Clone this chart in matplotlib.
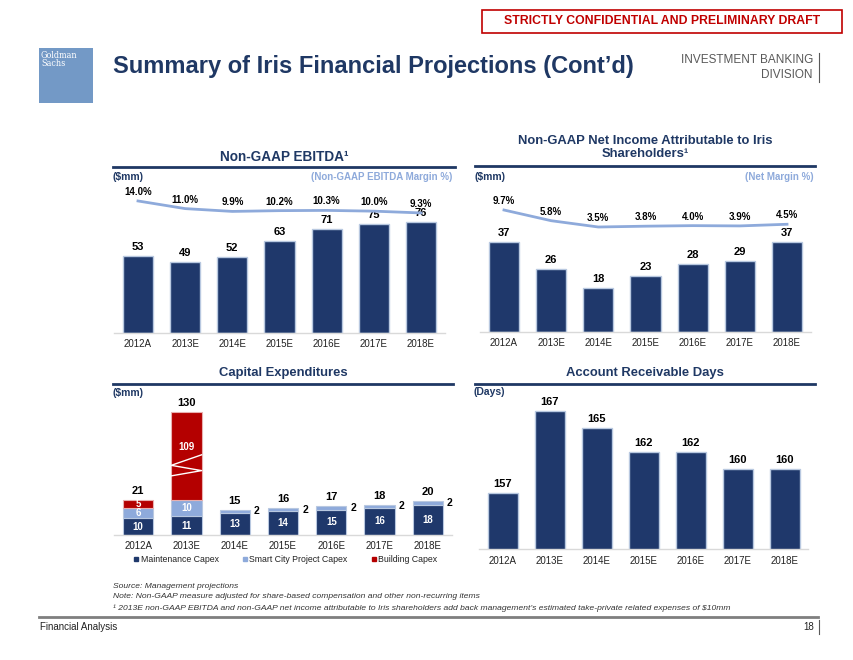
import matplotlib
matplotlib.use('Agg')
import matplotlib.pyplot as plt
from matplotlib.patches import Rectangle
from matplotlib.lines import Line2D

plt.rcParams['font.family'] = ['Liberation Sans', 'DejaVu Sans']

W, H = 854, 660
NAVY = '#1F3864'
BAR = '#1F386B'
EDGE = '#B8C8E0'
LIGHT = '#8EAADB'
RED = '#B40000'
GRAY = '#595959'

years = ['2012A', '2013E', '2014E', '2015E', '2016E', '2017E', '2018E']
ebitda = [53, 49, 52, 63, 71, 75, 76]
ebitda_margin = [14.0, 11.0, 9.9, 10.2, 10.3, 10.0, 9.3]
net_income = [37, 26, 18, 23, 28, 29, 37]
net_margin = [9.7, 5.8, 3.5, 3.8, 4.0, 3.9, 4.5]
capex_maint = [10, 11, 13, 14, 15, 16, 18]
capex_smart = [6, 10, 2, 2, 2, 2, 2]
capex_build = [5, 109, 0, 0, 0, 0, 0]
capex_names = ['Maintenance Capex', 'Smart City Project Capex', 'Building Capex']
ar_days = [157, 167, 165, 162, 162, 160, 160]

BREAK_CUT = 57  # amount of the 2013E building bar hidden by the axis break

fig = plt.figure(figsize=(W / 100, H / 100), dpi=100)


def fx(x):
    return x / W


def fy(y):
    return 1 - y / H


def px_axes(left, top, right, bottom):
    return fig.add_axes([fx(left), fy(bottom), (right - left) / W, (bottom - top) / H])


def ftext(x, y, s, **kw):
    kw.setdefault('va', 'center')
    return fig.text(fx(x), fy(y), s, **kw)


def hline(x0, x1, y, color=NAVY, lw=2):
    fig.add_artist(Line2D([fx(x0), fx(x1)], [fy(y), fy(y)], color=color, lw=lw,
                          transform=fig.transFigure))


def style_axes(ax):
    for s in ['left', 'right', 'top']:
        ax.spines[s].set_visible(False)
    ax.spines['bottom'].set_color('#D9D9D9')
    ax.spines['bottom'].set_linewidth(1)
    ax.set_yticks([])
    ax.set_xticks(range(len(years)))
    ax.set_xticklabels(years, fontsize=7, color='#222222')
    ax.tick_params(axis='x', length=0, pad=4)
    ax.set_xlim(-0.5, len(years) - 0.5)
    ax.patch.set_alpha(0)


def bar_panel(ax, values, ylim):
    x = range(len(values))
    bars = ax.bar(x, values, width=0.64, color=BAR, edgecolor=EDGE, linewidth=1)
    ax.set_ylim(*ylim)
    for b, v in zip(bars, values):
        ax.annotate(str(v), (b.get_x() + b.get_width() / 2, v), xytext=(0, 4),
                    textcoords='offset pixels', ha='center', va='bottom',
                    fontsize=8, fontweight='bold')
    style_axes(ax)


def margin_line(ax, values, ylim):
    ax2 = ax.twinx()
    x = list(range(len(values)))
    ax2.plot(x, values, color=LIGHT, lw=2)
    ax2.set_ylim(*ylim)
    for xi, v in zip(x, values):
        ax2.annotate(f'{v:.1f}%', (xi, v), xytext=(0, 9), textcoords='offset pixels',
                     ha='center', va='center', fontsize=7, fontweight='bold')
    ax2.axis('off')


# ---- header ----
fig.add_artist(Rectangle((fx(482), fy(33)), 360 / W, 23 / H, transform=fig.transFigure,
                         facecolor='white', edgecolor='#C00000', lw=1.2))
ftext(662, 21.5, 'STRICTLY CONFIDENTIAL AND PRELIMINARY DRAFT', ha='center',
      fontsize=8.8, fontweight='bold', color='#C00000')

fig.add_artist(Rectangle((fx(39), fy(103)), 54 / W, 55 / H, transform=fig.transFigure,
                         facecolor='#7399C6', edgecolor='none'))
ftext(41, 51, 'Goldman\nSachs', ha='left', va='top', fontsize=6.5, color='white',
      family='DejaVu Serif', fontstretch='condensed', linespacing=0.85)

ftext(113, 66, 'Summary of Iris Financial Projections (Cont\u2019d)', ha='left',
      fontsize=17, fontweight='bold', color=NAVY)
ftext(813, 60, 'INVESTMENT BANKING', ha='right', fontsize=8.5, color=GRAY)
ftext(813, 75, 'DIVISION', ha='right', fontsize=8.5, color=GRAY)
fig.add_artist(Line2D([fx(819), fx(819)], [fy(53), fy(82)], color=GRAY, lw=0.8,
                      transform=fig.transFigure))

TITLE_FS = 9.4

# ---- Non-GAAP EBITDA ----
ftext(284, 157, 'Non-GAAP EBITDA\u00b9', ha='center', fontsize=TITLE_FS + 0.4,
      fontweight='bold', color=NAVY)
hline(113, 455, 167)
ftext(113, 177, '($mm)', ha='left', fontsize=7.5, fontweight='bold', color=NAVY)
ftext(452, 177, '(Non-GAAP EBITDA Margin %)', ha='right', fontsize=7,
      fontweight='bold', color=LIGHT)
ax1 = px_axes(114.4, 190, 444.6, 333)
bar_panel(ax1, ebitda, (0, 98))
margin_line(ax1, ebitda_margin, (-37.8, 18.3))

# ---- Net income ----
ftext(645, 147.5, 'Non-GAAP Net Income Attributable to Iris\nShareholders\u00b9', ha='center',
      fontsize=TITLE_FS, fontweight='bold', color=NAVY, linespacing=1.15)
hline(475, 815, 166)
ftext(475, 177, '($mm)', ha='left', fontsize=7.5, fontweight='bold', color=NAVY)
ftext(814, 177, '(Net Margin %)', ha='right', fontsize=7, fontweight='bold', color=LIGHT)
ax2 = px_axes(480.4, 190, 810.6, 332)
bar_panel(ax2, net_income, (0, 58.4))
margin_line(ax2, net_margin, (-34.8, 17.0))

# ---- Capital expenditures ----
ftext(283, 373, 'Capital Expenditures', ha='center', fontsize=TITLE_FS, fontweight='bold',
      color=NAVY)
hline(113, 453, 384)
ftext(113, 393, '($mm)', ha='left', fontsize=7.5, fontweight='bold', color=NAVY)
ax3 = px_axes(114, 400, 452, 535)
w = 0.63
x = list(range(len(years)))
build_disp = [v - BREAK_CUT if v > 60 else v for v in capex_build]
smart_bottom = capex_maint
build_bottom = [m + s for m, s in zip(capex_maint, capex_smart)]
ax3.bar(x, capex_maint, width=w, color=BAR, edgecolor=EDGE, linewidth=0.8)
ax3.bar(x, capex_smart, width=w, bottom=smart_bottom, color=LIGHT, edgecolor=EDGE, linewidth=0.8)
bx = [i for i in x if capex_build[i] > 0]
ax3.bar(bx, [build_disp[i] for i in bx], width=w, bottom=[build_bottom[i] for i in bx],
        color=RED, edgecolor='#E8B0B0', linewidth=0.8)
ax3.set_ylim(0, 80)
for i in x:
    ax3.text(i, capex_maint[i] / 2, str(capex_maint[i]), ha='center', va='center',
             fontsize=7, fontweight='bold', color='white')
    sm = capex_smart[i]
    if sm >= 5:
        ax3.text(i, smart_bottom[i] + sm / 2, str(sm), ha='center', va='center',
                 fontsize=7, fontweight='bold', color='white')
    else:
        ax3.annotate(str(sm), (i + w / 2, smart_bottom[i] + sm / 2), xytext=(4, 0),
                     textcoords='offset pixels', ha='left', va='center',
                     fontsize=7.5, fontweight='bold')
    if capex_build[i] > 0:
        yb = build_bottom[i] + build_disp[i] / 2
        if capex_build[i] > 60:
            yb = build_bottom[i] + build_disp[i] * 0.6
        ax3.text(i, yb, str(capex_build[i]), ha='center', va='center',
                 fontsize=7, fontweight='bold', color='white')
    total = capex_maint[i] + capex_smart[i] + capex_build[i]
    top = build_bottom[i] + build_disp[i]
    ax3.annotate(str(total), (i, top), xytext=(0, 4), textcoords='offset pixels',
                 ha='center', va='bottom', fontsize=8, fontweight='bold')
# axis break marks on the compressed bar
ib = capex_build.index(max(capex_build))
b0, bh = build_bottom[ib], build_disp[ib]
zig_x = [ib + w / 2, ib - w / 2, ib + w / 2, ib - w / 2]
zig_y = [b0 + bh * f for f in (0.51, 0.39, 0.33, 0.27)]
ax3.plot(zig_x, zig_y, color='white', lw=1)
style_axes(ax3)
handles = [Line2D([], [], marker='s', ls='none', markersize=3.5, color=c)
           for c in (BAR, LIGHT, RED)]
fig.legend(handles, capex_names, loc='center', bbox_to_anchor=(fx(285), fy(560)), ncol=3,
           frameon=False, fontsize=6.3, handletextpad=0.1, columnspacing=2.6,
           handlelength=0.8, labelcolor='#222222')

# ---- Account receivable days ----
ftext(645, 373, 'Account Receivable Days', ha='center', fontsize=TITLE_FS, fontweight='bold',
      color=NAVY)
hline(475, 815, 384)
ftext(474, 392, '(Days)', ha='left', fontsize=7.5, fontweight='bold', color=NAVY)
ax4 = px_axes(479.5, 395, 808.5, 549)
bar_panel(ax4, ar_days, (150.2, 169))
ax4.tick_params(axis='x', pad=5)

# ---- footer ----
NOTE_FS = 6.1
ftext(113, 586, 'Source: Management projections', ha='left', fontsize=NOTE_FS,
      style='italic', color='#333333')
ftext(113, 597, 'Note: Non-GAAP measure adjusted for share-based compensation and other '
      'non-recurring items', ha='left', fontsize=NOTE_FS, style='italic', color='#333333')
ftext(113, 608, '\u00b9 2013E non-GAAP EBITDA and non-GAAP net income attributable to Iris '
      'shareholders add back management\u2019s estimated take-private related expenses '
      'of $10mm', ha='left', fontsize=NOTE_FS, style='italic', color='#333333')
hline(39, 818, 617, color='#7F7F7F', lw=2)
ftext(40, 627, 'Financial Analysis', ha='left', fontsize=7, color='#222222')
ftext(814, 627, '18', ha='right', fontsize=7, color='#222222')
fig.add_artist(Line2D([fx(819), fx(819)], [fy(620), fy(634)], color=GRAY, lw=0.8,
                      transform=fig.transFigure))

fig.savefig('out.png', dpi=100)
